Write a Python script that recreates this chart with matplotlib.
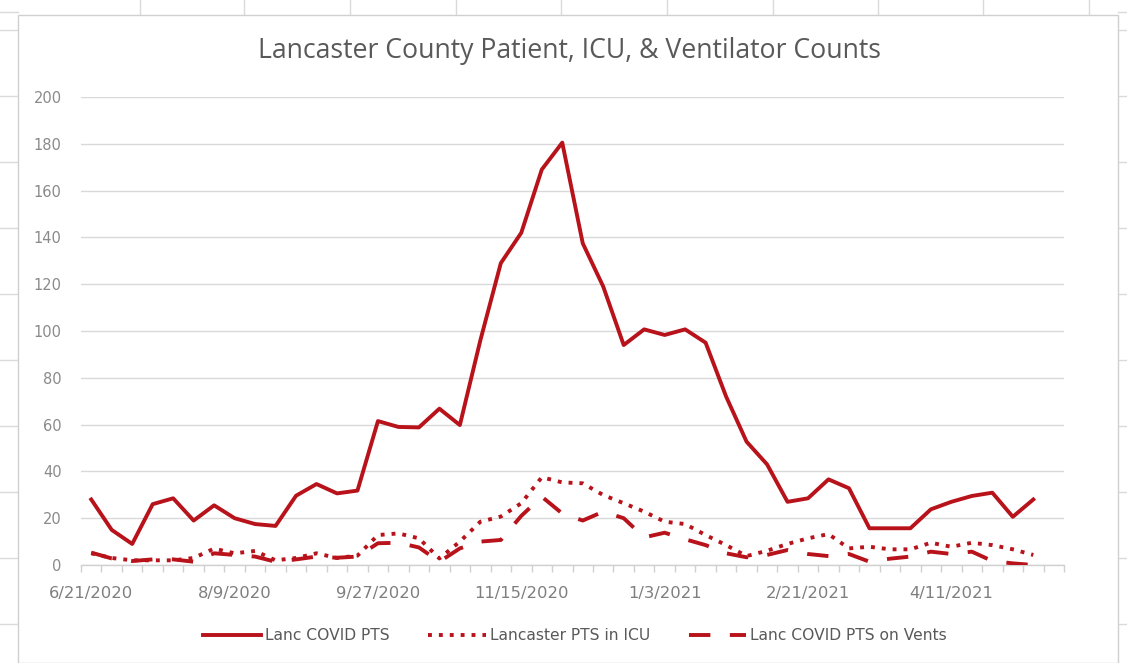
import matplotlib
matplotlib.use('Agg')
import matplotlib.pyplot as plt
from matplotlib.lines import Line2D
from matplotlib.patches import Rectangle
import numpy as np

# ---------------- data ----------------
weeks = ['6/21/2020', '6/28/2020', '7/5/2020', '7/12/2020', '7/19/2020', '7/26/2020',
         '8/2/2020', '8/9/2020', '8/16/2020', '8/23/2020', '8/30/2020', '9/6/2020',
         '9/13/2020', '9/20/2020', '9/27/2020', '10/4/2020', '10/11/2020', '10/18/2020',
         '10/25/2020', '11/1/2020', '11/8/2020', '11/15/2020', '11/22/2020', '11/29/2020',
         '12/6/2020', '12/13/2020', '12/20/2020', '12/27/2020', '1/3/2021', '1/10/2021',
         '1/17/2021', '1/24/2021', '1/31/2021', '2/7/2021', '2/14/2021', '2/21/2021',
         '2/28/2021', '3/7/2021', '3/14/2021', '3/21/2021', '3/28/2021', '4/4/2021',
         '4/11/2021', '4/18/2021', '4/25/2021', '5/2/2021', '5/9/2021', '5/16/2021']

tick_labels = ['6/21/2020', '8/9/2020', '9/27/2020', '11/15/2020',
               '1/3/2021', '2/21/2021', '4/11/2021']

lanc_covid_pts = [28, 15, 9, 26, 28.5, 19, 25.5, 20, 17.5, 16.7, 29.6, 34.6, 30.6, 31.8,
                  61.5, 59, 58.8, 66.8, 59.8, 96, 129, 142, 169, 180.5, 137.5, 119, 94,
                  100.7, 98.3, 100.7, 95, 72, 52.7, 43, 27, 28.5, 36.6, 32.8, 15.7, 15.7,
                  15.7, 23.8, 27, 29.5, 30.9, 20.6, 28]

lanc_pts_icu = [5, 3, 2, 2, 2, 3, 7, 5, 6, 2, 3, 5, 3, 4, 12.8, 13.5, 11.4, 2.8, 10,
                18.5, 20.7, 26.4, 37.5, 35.3, 34.9, 29.9, 26.4, 22.8, 18.5, 17.5, 12.8,
                8.5, 3.8, 6.1, 9, 11.4, 13.2, 7.1, 7.8, 6.7, 6.7, 9.5, 7.8, 9.5, 8.5, 6.7, 4.3]

lanc_pts_vents = [5.3, 2.8, 1.7, 2.4, 2.4, 1.4, 5, 4.3, 3.6, 1.4, 2.4, 3.6, 3.1, 3.6,
                  9.3, 9.5, 7.5, 1.4, 7.1, 10, 10.7, 21, 29.2, 22, 19, 22.8, 20, 11.8,
                  13.8, 11, 8.5, 5, 3.3, 4.3, 6.4, 4.7, 3.8, 4.7, 1.4, 2.7, 3.6, 5.7,
                  4.7, 5.7, 1.7, 0.7, 0]

series_names = ['Lanc COVID PTS', 'Lancaster PTS in ICU', 'Lanc COVID PTS on Vents']

# ---------------- figure ----------------
W, H = 1127, 663
fig = plt.figure(figsize=(W / 100, H / 100), dpi=100)
plt.rcParams['font.family'] = ['DejaVu Sans']

def fx(x):
    return x / W

def fy(y):
    return 1 - y / H

# spreadsheet background grid
sheet_col = '#DADADA'
for x in [140, 244, 350, 456, 561, 667, 773, 878, 983, 1089]:
    fig.add_artist(Line2D([fx(x), fx(x)], [fy(0), fy(15)], color=sheet_col, lw=1, zorder=-2))
for y in [12, 30, 96, 162, 228, 294, 360, 426, 492, 558, 624]:
    fig.add_artist(Line2D([fx(0), fx(18)], [fy(y), fy(y)], color=sheet_col, lw=1, zorder=-2))
    fig.add_artist(Line2D([fx(1118), fx(1127)], [fy(y), fy(y)], color=sheet_col, lw=1, zorder=-2))

# chart area
fig.add_artist(Rectangle((fx(18), fy(663)), fx(1118) - fx(18), fy(15) - fy(663),
                         facecolor='white', edgecolor='#D0D0D0', lw=1, zorder=-1))

ax = fig.add_axes([fx(81), fy(565), fx(1064) - fx(81), fy(97) - fy(565)])
ax.set_facecolor('none')

red = '#B8121B'
x = np.arange(len(lanc_covid_pts))
lw = 2.8
ax.plot(x, lanc_covid_pts, color=red, lw=lw, solid_joinstyle='round', label=series_names[0], zorder=3)
ax.plot(x, lanc_pts_icu, color=red, lw=lw, linestyle=(0, (1, 1.8)), label=series_names[1], zorder=3)
ax.plot(x, lanc_pts_vents, color=red, lw=lw, linestyle=(0, (5.5, 5)), label=series_names[2], zorder=4)

ax.set_xlim(-0.5, len(weeks) - 0.5)
ax.set_ylim(0, 200)
ax.set_yticks(np.arange(0, 201, 20))
ax.yaxis.grid(True, color='#D9D9D9', lw=1)
ax.set_axisbelow(True)
for s in ['top', 'right', 'left']:
    ax.spines[s].set_visible(False)
ax.spines['bottom'].set_color('#D0D0D0')
ax.spines['bottom'].set_linewidth(1)

label_pos = [weeks.index(t) for t in tick_labels]
ax.set_xticks(label_pos)
ax.set_xticklabels(tick_labels)
ax.set_xticks(np.arange(-0.5, len(weeks), 1), minor=True)
ax.tick_params(axis='x', which='major', length=0, pad=15, labelsize=11.8, labelcolor='#7F7F7F')
ax.tick_params(axis='x', which='minor', length=5, color='#D0D0D0', width=1)
ax.tick_params(axis='y', length=0, pad=14, labelsize=10.5, labelcolor='#8A8A8A')

title = fig.text(fx(570), fy(51), 'Lancaster County Patient, ICU, & Ventilator Counts',
                 ha='center', va='center', fontsize=16, color='#595959', family='Open Sans')
fig.canvas.draw()
bb = title.get_window_extent()
title.set_fontsize(16 * 624 / bb.width)

leg = ax.legend(loc='center', bbox_to_anchor=(fx(575), fy(636)), bbox_transform=fig.transFigure,
                ncol=3, frameon=False, fontsize=11.2, handlelength=3.7, handletextpad=0.25,
                columnspacing=2.5, labelcolor='#595959')

fig.savefig('out.png', dpi=100)
